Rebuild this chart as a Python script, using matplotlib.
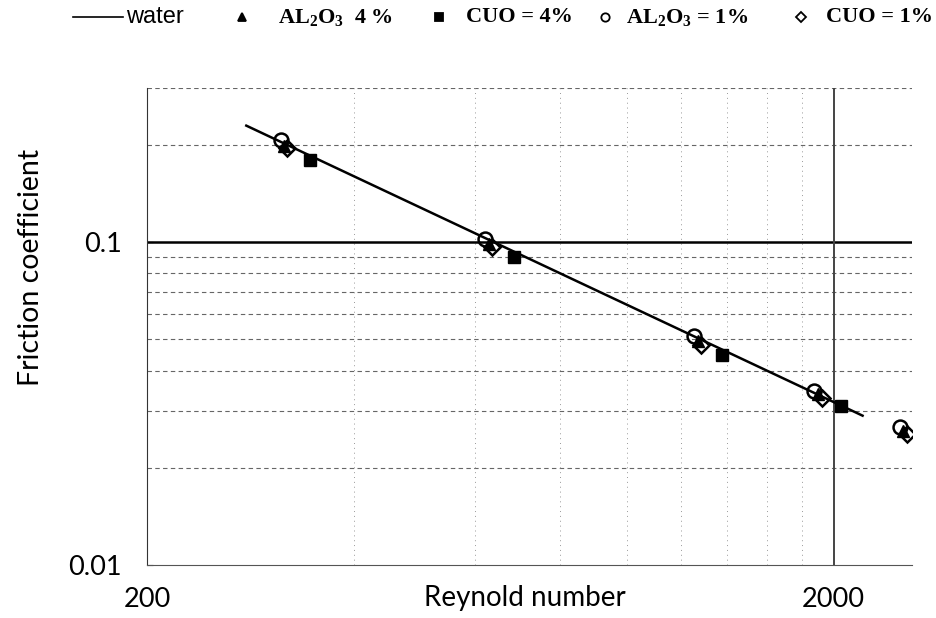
import matplotlib
matplotlib.use("Agg")
import matplotlib.pyplot as plt
from matplotlib.lines import Line2D
from matplotlib.ticker import FixedLocator, NullFormatter, FixedFormatter

plt.rcParams["font.family"] = ["Lato", "DejaVu Sans"]
plt.rcParams["mathtext.default"] = "regular"

# laminar water reference line (end points)
water_re = [279, 2203]
water_f = [0.2294, 0.0290]

# Al2O3 4 %
al4_re = [317, 629, 1270, 1895, 2523]
al4_f = [0.199, 0.0986, 0.0495, 0.0338, 0.0260]

# CuO 4 %
cu4_re = [345, 684, 1373, 2048]
cu4_f = [0.180, 0.0898, 0.0448, 0.0311]

# Al2O3 1 %
al1_re = [313, 622, 1253, 1869, 2496]
al1_f = [0.2064, 0.1022, 0.0510, 0.0346, 0.0267]

# CuO 1 %
cu1_re = [320, 636, 1283, 1920, 2557]
cu1_f = [0.195, 0.0965, 0.0481, 0.0329, 0.0254]

x_minor = [400, 600, 800, 1000, 1200, 1400, 1600, 1800]
y_minor = [0.02, 0.03, 0.04, 0.05, 0.06, 0.07, 0.08, 0.09, 0.2, 0.3]

fig = plt.figure(figsize=(9.37, 6.18), dpi=100)
ax = fig.add_axes([0.1569, 0.0858, 0.8164, 0.7718])
ax.set_xscale("log")
ax.set_yscale("log")
ax.set_xlim(200, 2600)
ax.set_ylim(0.01, 0.3)

# grid: dashed minors, solid majors
for yv in y_minor:
    ax.axhline(yv, color="#666666", lw=0.8, ls=(0, (4, 3)), zorder=0)
for xv in x_minor:
    ax.axvline(xv, color="#999999", lw=0.7, ls=(0, (1, 4)), zorder=0)
ax.axhline(0.1, color="black", lw=1.8, zorder=1)
ax.axvline(2000, color="#444444", lw=1.4, zorder=1)

ax.plot(water_re, water_f, color="black", lw=1.8, zorder=3)
ax.plot(al4_re, al4_f, ls="none", marker="^", ms=8, mfc="black", mec="black", zorder=4)
ax.plot(cu4_re, cu4_f, ls="none", marker="s", ms=8, mfc="black", mec="black", zorder=4)
ax.plot(al1_re, al1_f, ls="none", marker="o", ms=10, mfc="none", mec="black",
        mew=1.8, zorder=5)
ax.plot(cu1_re, cu1_f, ls="none", marker="D", ms=8, mfc="none", mec="black",
        mew=1.8, zorder=5)

ax.spines["top"].set_visible(False)
ax.spines["right"].set_visible(False)
ax.spines["left"].set_color("#333333")
ax.spines["bottom"].set_color("#555555")

ax.xaxis.set_major_locator(FixedLocator([200, 2000]))
ax.xaxis.set_major_formatter(FixedFormatter(["200", "2000"]))
ax.xaxis.set_minor_locator(FixedLocator([]))
ax.xaxis.set_minor_formatter(NullFormatter())
ax.yaxis.set_major_locator(FixedLocator([0.01, 0.1]))
ax.yaxis.set_major_formatter(FixedFormatter(["0.01", "0.1"]))
ax.yaxis.set_minor_locator(FixedLocator([]))
ax.yaxis.set_minor_formatter(NullFormatter())
ax.tick_params(axis="x", length=0, pad=16, labelsize=19.5)
ax.tick_params(axis="y", length=4, direction="in", pad=18, labelsize=19.5)

ax.set_xlabel("Reynold number", fontsize=20, va="center")
ax.xaxis.set_label_coords(0.494, -0.069)
ax.set_ylabel("Friction coefficient", fontsize=20.5, va="center")
ax.yaxis.set_label_coords(-0.152, 0.623)

# key strip across the top
W, H = 937, 618
ky = 1 - 17 / H
serif = {"family": "Liberation Serif", "weight": "bold", "size": 16}
fig.add_artist(Line2D([73 / W, 123 / W], [ky, ky], color="black", lw=1.2))
fig.text(126 / W, ky, "water", fontsize=17, family="Liberation Sans", va="center")
keys = [
    ("^", "black", r"AL$_2$O$_3$  4 %", 242, 278),
    ("s", "black", "CUO = 4%", 439, 466),
    ("o", "none", r"AL$_2$O$_3$ = 1%", 605, 626),
    ("D", "none", "CUO = 1%", 801, 826),
]
for mk, fc, txt, mx, tx in keys:
    fig.add_artist(Line2D([mx / W], [ky], ls="none", marker=mk, ms=6 if mk != "D" else 5,
                          mfc=fc, mec="black", mew=1.3))
    fig.text(tx / W, ky, txt, va="center", **serif)

fig.savefig("out.png", dpi=100)
